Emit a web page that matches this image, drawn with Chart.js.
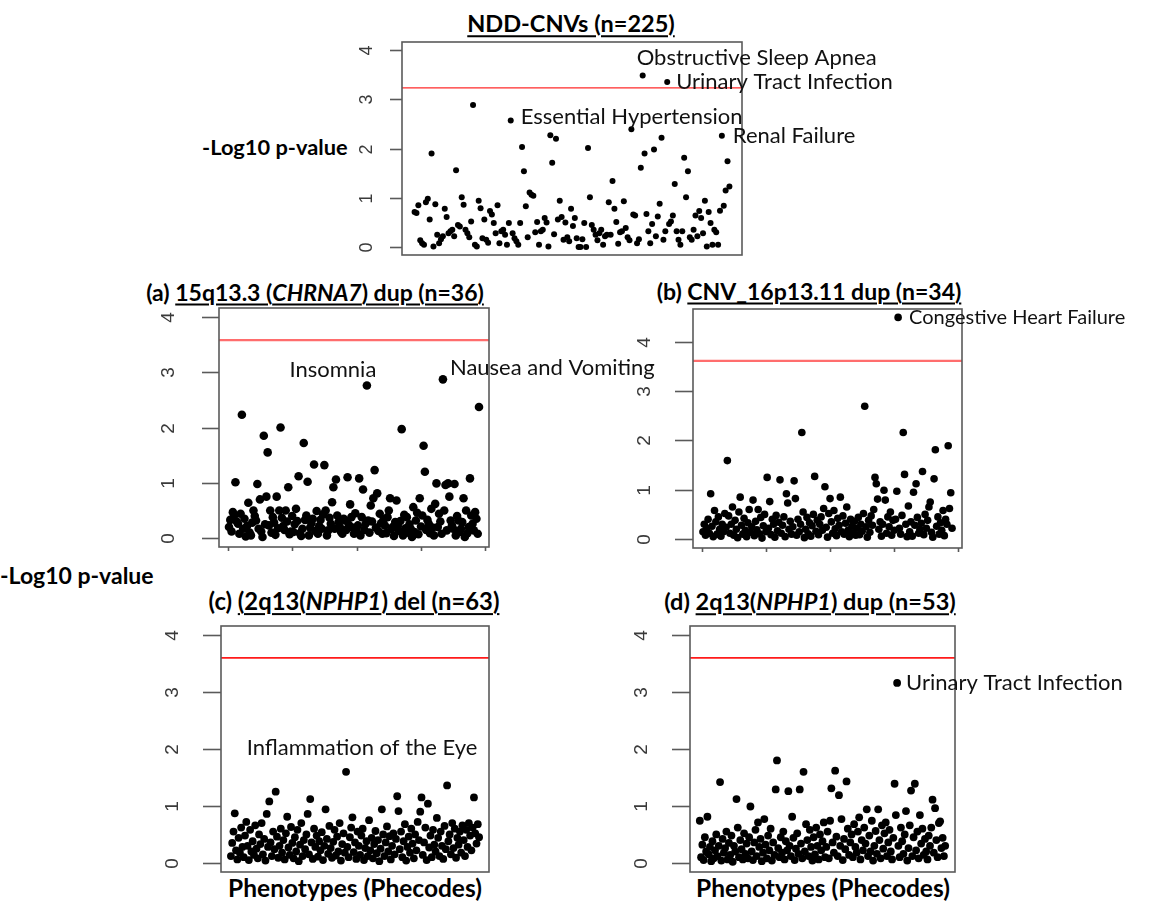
<!DOCTYPE html>
<html>
<head>
<meta charset="utf-8">
<script src="https://cdn.jsdelivr.net/npm/chart.js@4.4.1/dist/chart.umd.min.js"></script>
<style>
  body { margin: 0; background: #fff; width: 1150px; height: 903px; position: relative; overflow: hidden; font-family: Lato, sans-serif; }
  canvas { position: absolute; }
  .t { position: absolute; font-weight: bold; white-space: nowrap; color: #000; line-height: 1; }
  .u { text-decoration: underline; text-decoration-thickness: 2px; text-underline-offset: 3px; }
</style>
</head>
<body>
<div class="t" style="left:571px;top:24px;font-size:23.5px;transform:translate(-50%,-50%)"><span class="u">NDD-CNVs (n=225)</span></div>
<div class="t" style="left:202px;top:147px;font-size:21.8px;transform:translateY(-50%)">-Log10 p-value</div>
<div class="t" style="left:315px;top:292px;font-size:23px;transform:translate(-50%,-50%)">(a) <span class="u">15q13.3 (<i>CHRNA7</i>) dup (n=36)</span></div>
<div class="t" style="left:809px;top:291px;font-size:23px;transform:translate(-50%,-50%)">(b) <span class="u">CNV_16p13.11 dup (n=34)</span></div>
<div class="t" style="left:0px;top:575px;font-size:23px;transform:translateY(-50%)">-Log10 p-value</div>
<div class="t" style="left:354px;top:602px;font-size:23.8px;transform:translate(-50%,-50%)">(c) <span class="u">(2q13(<i>NPHP1</i>) del (n=63)</span></div>
<div class="t" style="left:810px;top:602px;font-size:23.5px;transform:translate(-50%,-50%)">(d) <span class="u">2q13(<i>NPHP1</i>) dup (n=53)</span></div>
<div class="t" style="left:355px;top:888px;font-size:24.5px;transform:translate(-50%,-50%)">Phenotypes (Phecodes)</div>
<div class="t" style="left:823px;top:888px;font-size:24.5px;transform:translate(-50%,-50%)">Phenotypes (Phecodes)</div>

<canvas id="cTop"></canvas>
<canvas id="cA"></canvas>
<canvas id="cB"></canvas>
<canvas id="cC"></canvas>
<canvas id="cD"></canvas>

<script>
// -log10 p-values, one per phecode, in phecode order
const nddCnvs = [
  0.71,0.69,0.85,0.14,0.08,0.05,0.91,0.98,0.56,1.90,
  0.01,0.87,0.25,0.08,0.16,0.22,0.78,0.61,0.28,0.32,
  0.35,0.22,1.56,0.45,0.42,1.01,0.86,0.35,0.28,0.20,
  0.52,2.88,0.05,0.01,0.94,0.79,0.18,0.56,0.15,0.09,
  0.73,0.66,0.49,0.28,0.85,0.08,0.32,0.35,0.25,0.05,
  0.49,2.57,0.28,0.18,0.12,0.05,0.49,2.03,1.54,0.83,
  0.20,1.11,1.06,1.04,0.30,0.51,0.05,0.32,0.35,0.59,
  0.50,0.01,2.27,1.71,0.26,2.20,0.56,0.94,0.61,0.15,
  0.50,0.20,0.12,0.78,0.43,0.59,0.18,0.00,0.00,0.16,
  0.49,0.00,2.01,1.01,0.45,0.35,0.25,0.14,0.28,0.35,
  0.05,0.22,0.25,0.91,0.25,1.34,0.78,0.51,0.07,0.30,
  0.32,0.93,0.39,0.20,0.14,2.39,0.66,0.64,0.08,0.16,
  1.61,3.48,1.90,0.67,0.32,0.08,0.47,1.98,0.22,0.62,
  0.88,2.22,0.15,0.32,3.35,0.47,0.52,0.64,1.28,0.32,
  0.15,0.05,0.32,1.81,1.01,1.54,0.20,0.15,0.35,0.64,
  0.22,0.73,0.59,0.28,0.94,0.01,0.71,0.49,0.05,0.35,
  0.30,0.05,0.74,2.26,0.84,1.15,1.74,1.23
];

const dupCHRNA7 = [
  0.20,0.33,0.12,0.47,0.41,1.01,0.30,0.26,0.08,0.44,
  2.23,0.17,0.35,0.03,0.22,0.64,0.10,0.05,0.28,0.50,
  0.40,0.32,0.98,0.17,0.70,0.12,0.02,1.85,0.25,0.75,
  1.55,0.23,0.50,0.10,0.38,0.28,0.06,0.75,0.18,0.50,
  2.00,0.37,0.22,0.15,0.50,0.30,0.92,0.07,0.12,0.40,
  0.11,0.25,0.53,0.31,1.12,0.09,0.04,0.17,1.72,0.33,
  0.41,1.02,0.05,0.19,0.27,0.35,1.33,0.13,0.49,0.08,
  0.22,0.33,0.17,0.43,1.32,0.50,0.05,0.14,0.37,0.26,
  0.65,0.92,0.17,1.06,0.41,0.29,0.20,0.11,0.08,0.35,
  0.32,0.15,1.10,0.24,0.61,0.38,0.19,0.08,0.45,0.12,
  0.23,1.08,0.05,0.38,0.88,0.15,0.26,2.76,0.32,0.10,
  0.59,0.30,0.72,1.23,0.19,0.81,0.13,0.44,0.27,0.08,
  0.34,0.23,0.09,0.38,0.50,0.72,0.16,0.20,0.04,0.29,
  0.68,0.22,0.13,0.31,1.97,0.05,0.42,0.18,0.38,0.10,
  0.25,0.17,0.02,0.56,0.11,0.32,0.46,0.07,0.72,0.21,
  0.41,1.67,1.20,0.15,0.33,0.26,0.09,0.53,0.19,0.05,
  0.62,0.99,0.20,0.44,0.30,0.08,2.87,0.50,0.96,0.14,
  0.99,0.75,0.32,0.23,0.17,0.98,0.05,0.40,0.32,0.11,
  0.17,0.29,0.72,0.02,0.50,0.09,0.20,1.08,0.41,0.26,
  0.14,0.47,0.35,0.08,2.37
];

const dup16p1311 = [
  0.15,0.30,0.08,0.22,0.40,0.12,0.92,0.26,0.05,0.58,
  0.35,0.10,0.45,0.20,0.06,0.30,0.15,0.52,0.24,1.59,
  0.47,0.12,0.30,0.65,0.08,0.38,0.20,0.03,0.55,0.85,
  0.28,0.10,0.42,0.18,0.05,0.33,0.60,0.14,0.25,0.79,
  0.07,0.36,0.19,0.60,0.11,0.44,0.02,0.27,0.50,0.15,
  1.25,0.22,0.76,0.09,0.40,0.30,0.04,0.48,0.17,0.34,
  1.20,0.12,0.28,0.45,0.05,0.92,0.73,0.20,0.36,0.10,
  0.25,1.18,0.82,0.08,0.40,0.15,0.30,2.16,0.55,0.03,
  0.20,0.44,0.11,0.33,0.06,0.27,0.50,1.27,0.16,0.38,
  0.09,0.30,0.45,0.18,0.62,1.06,0.24,0.04,0.52,0.82,
  0.35,0.12,0.58,0.21,0.07,0.42,0.28,0.85,0.15,0.47,
  0.10,0.32,0.65,0.18,0.05,0.40,0.26,0.13,0.36,0.08,
  0.22,0.44,0.09,0.30,0.16,0.52,2.69,0.25,0.04,0.38,
  0.14,0.47,0.28,0.60,1.25,1.12,0.81,0.20,0.35,0.06,
  0.30,0.99,0.79,0.12,0.45,0.25,0.55,0.08,0.38,0.18,
  0.40,0.97,4.49,0.22,0.10,0.48,2.16,1.31,0.30,0.05,
  0.67,0.15,0.35,0.06,0.95,0.28,1.12,0.44,0.12,0.20,
  0.32,1.37,0.09,0.50,0.22,0.38,0.65,0.75,0.14,0.04,
  1.22,1.81,0.26,0.45,0.10,0.33,0.18,0.58,0.07,0.40,
  0.30,1.89,0.62,0.94,0.22
];

const delNPHP1 = [
  0.12,0.35,0.55,0.87,0.22,0.06,0.44,0.18,0.62,0.28,
  0.10,0.48,0.72,0.30,0.05,0.58,0.20,0.38,0.14,0.66,
  0.25,0.08,0.50,0.33,0.70,0.15,0.42,0.04,0.86,0.28,
  1.08,0.36,0.12,0.55,0.24,1.25,0.46,0.09,0.30,0.60,
  0.18,0.40,0.06,0.52,0.81,0.27,0.14,0.63,0.35,0.08,
  0.45,0.20,0.58,0.03,0.32,0.70,0.12,0.40,0.24,0.50,
  0.86,0.15,1.12,0.36,0.07,0.60,0.28,0.48,0.11,0.38,
  0.22,0.54,0.05,0.30,0.94,0.42,0.16,0.65,0.26,0.09,
  0.37,0.58,0.13,0.46,0.20,0.70,0.04,0.33,0.52,0.18,
  1.60,0.28,0.10,0.45,0.62,0.80,0.19,0.36,0.07,0.55,
  0.30,0.14,0.48,0.60,0.05,0.26,0.38,0.12,0.75,0.22,
  0.44,0.08,0.33,0.56,0.17,0.40,0.03,0.25,0.94,0.50,
  0.12,0.36,0.64,0.20,0.47,0.06,0.30,0.52,0.15,0.42,
  1.17,0.91,0.24,0.55,0.10,0.38,0.68,0.04,0.28,0.46,
  0.18,0.60,0.34,0.08,0.50,0.22,0.72,0.40,0.90,1.15,
  0.14,0.36,0.62,0.05,1.04,0.27,0.48,0.10,0.58,0.32,
  0.20,0.79,0.44,0.12,0.55,0.30,0.07,0.65,0.24,1.36,
  0.38,0.50,0.15,0.70,0.26,0.60,0.09,0.44,0.32,0.55,
  0.18,0.66,0.40,0.12,0.58,0.28,0.70,0.48,0.22,0.62,
  1.15,0.52,0.34,0.68,0.45
];

const dupNPHP1 = [
  0.74,0.10,0.32,0.05,0.45,0.20,0.81,0.15,0.28,0.03,
  0.38,0.08,0.22,0.50,0.12,0.30,1.42,0.04,0.42,0.18,
  0.26,0.55,0.06,0.35,0.14,0.48,0.02,0.30,0.20,1.12,
  0.62,0.10,0.40,0.24,0.06,0.52,0.16,0.34,0.08,0.45,
  0.99,0.20,0.05,0.36,0.58,0.12,0.71,0.28,0.42,0.03,
  0.18,0.77,0.32,0.08,0.48,0.22,0.60,0.04,0.36,0.14,
  1.29,1.80,0.26,0.10,0.45,0.18,0.55,0.06,0.38,0.22,
  1.26,0.30,0.12,0.81,0.44,0.05,0.25,0.52,0.16,1.29,
  0.34,0.08,1.60,0.20,0.68,0.40,0.12,0.58,0.28,0.04,
  0.45,0.15,0.62,0.30,0.06,0.50,0.22,0.38,0.71,0.10,
  0.28,0.55,0.08,0.74,1.31,0.36,0.18,1.62,0.46,0.12,
  1.19,0.30,0.77,0.05,0.42,0.24,1.43,0.60,0.14,0.36,
  0.50,0.10,0.68,0.28,0.18,0.55,0.80,0.06,0.40,0.22,
  0.62,0.34,0.94,0.12,0.48,0.20,0.74,0.04,0.30,0.56,
  0.16,0.94,0.40,0.08,0.66,0.25,0.52,0.71,0.12,0.36,
  0.58,0.20,0.06,0.44,1.39,0.84,3.16,0.30,0.10,0.62,
  0.38,0.16,0.50,0.91,0.04,0.26,0.66,1.27,0.12,0.45,
  1.39,0.22,0.55,0.08,0.84,0.34,0.60,0.14,0.42,0.20,
  0.06,0.48,0.30,0.62,1.11,0.18,0.96,0.40,0.10,0.70,
  0.73,0.26,0.44,0.12,0.30
];

// significance thresholds (-log10 of Bonferroni p)
const thresholds = [3.23, 3.58, 3.61, 3.60, 3.60];
const yTicks = [0, 1, 2, 3, 4];
const xTicks = [0, 50, 100, 150, 200];

// labelled phenotypes: [phecode index (1-based), name]
const notesTop = [[52, 'Essential Hypertension'], [122, 'Obstructive Sleep Apnea'], [135, 'Urinary Tract Infection'], [164, 'Renal Failure']];
const notesA = [[108, 'Insomnia'], [167, 'Nausea and Vomiting']];
const notesB = [[153, 'Congestive Heart Failure']];
const notesC = [[91, 'Inflammation of the Eye']];
const notesD = [[157, 'Urinary Tract Infection']];

// label offsets from the point (pixels)
const noteStyle = {
  'Essential Hypertension': { dx: 10, dy: -3, align: 'left' },
  'Obstructive Sleep Apnea': { dx: -6, dy: -18, align: 'left' },
  'Urinary Tract Infection': { dx: 9, dy: 0, align: 'left' },
  'Renal Failure': { dx: 11, dy: 0, align: 'left' },
  'Insomnia': { dx: -34, dy: -16, align: 'center' },
  'Nausea and Vomiting': { dx: 7, dy: -11, align: 'left' },
  'Congestive Heart Failure': { dx: 11, dy: 0, align: 'left', size: 20 },
  'Inflammation of the Eye': { dx: 16, dy: -24, align: 'center' }
};

function frame(p) {
  return {
    id: 'frame',
    afterDatasetsDraw(chart) {
      const { ctx, chartArea: a, scales: { x, y } } = chart;
      ctx.save();
      ctx.strokeStyle = '#5a5a5a';
      ctx.lineWidth = 1.6;
      ctx.strokeRect(a.left, a.top, a.right - a.left, a.bottom - a.top);

      ctx.fillStyle = '#3a3a3a';
      ctx.font = p.tickFont;
      yTicks.forEach(v => {
        const py = Math.round(y.getPixelForValue(v)) + 0.5;
        ctx.beginPath();
        ctx.moveTo(a.left - p.tickLen, py);
        ctx.lineTo(a.left, py);
        ctx.stroke();
        ctx.save();
        ctx.translate(a.left - p.labelGap, py);
        ctx.rotate(-Math.PI / 2);
        ctx.textAlign = 'center';
        ctx.textBaseline = 'middle';
        ctx.fillText(String(v), 0, 0);
        ctx.restore();
      });
      if (p.xTicks) {
        xTicks.forEach(v => {
          const px = Math.round(x.getPixelForValue(v)) + 0.5;
          ctx.beginPath();
          ctx.moveTo(px, a.bottom);
          ctx.lineTo(px, a.bottom + 4);
          ctx.stroke();
        });
      }

      ctx.fillStyle = '#111';
      ctx.textBaseline = 'middle';
      p.notes.forEach(([i, name]) => {
        const s = noteStyle[name];
        const px = x.getPixelForValue(i);
        const py = y.getPixelForValue(p.values[i - 1]);
        ctx.font = (s.size || 22) + 'px Lato';
        ctx.textAlign = s.align;
        ctx.fillText(name, px + s.dx, py + s.dy);
      });
      ctx.restore();
    }
  };
}

function makePanel(id, p) {
  const el = document.getElementById(id);
  el.width = p.w; el.height = p.h;
  el.style.left = p.left + 'px'; el.style.top = p.top + 'px';
  el.style.width = p.w + 'px'; el.style.height = p.h + 'px';
  const n = p.values.length;
  const ext = 0.04 * (n - 1);
  const xMin = 1 - ext, xMax = n + ext;
  new Chart(el, {
    type: 'scatter',
    data: {
      datasets: [
        {
          data: p.values.map((v, i) => ({ x: i + 1, y: v })),
          backgroundColor: '#000',
          borderWidth: 0,
          pointRadius: p.r,
          clip: false
        },
        {
          type: 'line',
          data: [{ x: xMin, y: p.thr }, { x: xMax, y: p.thr }],
          borderColor: p.thrColor,
          borderWidth: p.thrWidth,
          pointRadius: 0,
          clip: false
        }
      ]
    },
    options: {
      responsive: false,
      devicePixelRatio: 1,
      animation: false,
      layout: { padding: p.pad },
      scales: {
        x: { type: 'linear', min: xMin, max: xMax, display: false },
        y: { type: 'linear', min: p.yMin, max: p.yMax, display: false }
      },
      plugins: { legend: { display: false }, tooltip: { enabled: false } }
    },
    plugins: [frame(p)]
  });
}

makePanel('cTop', {
  values: nddCnvs, notes: notesTop, thr: thresholds[0], thrColor: '#ff2a2a', thrWidth: 1.3,
  left: 340, top: 35, w: 560, h: 230, pad: { left: 62, top: 7, right: 158, bottom: 10 },
  yMin: -0.16, yMax: 4.16, r: 3, tickFont: '18px "Liberation Sans"', tickLen: 12, labelGap: 35, xTicks: false
});
makePanel('cA', {
  values: dupCHRNA7, notes: notesA, thr: thresholds[1], thrColor: 'rgba(255,60,60,0.75)', thrWidth: 2.2,
  left: 150, top: 300, w: 520, h: 260, pad: { left: 69, top: 8, right: 181, bottom: 13 },
  yMin: -0.16, yMax: 4.16, r: 4.3, tickFont: '19px "Liberation Sans"', tickLen: 17, labelGap: 50, xTicks: true
});
makePanel('cB', {
  values: dup16p1311, notes: notesB, thr: thresholds[2], thrColor: 'rgba(255,60,60,0.75)', thrWidth: 2.2,
  left: 630, top: 300, w: 520, h: 260, pad: { left: 63, top: 9, right: 188, bottom: 12 },
  yMin: -0.18, yMax: 4.66, r: 3.8, tickFont: '19px "Liberation Sans"', tickLen: 18, labelGap: 48, xTicks: true
});
makePanel('cC', {
  values: delNPHP1, notes: notesC, thr: thresholds[3], thrColor: '#ff1a1a', thrWidth: 1.6,
  left: 150, top: 615, w: 360, h: 270, pad: { left: 71, top: 11, right: 21, bottom: 13 },
  yMin: -0.16, yMax: 4.16, r: 3.9, tickFont: '19px "Liberation Sans"', tickLen: 18, labelGap: 48, xTicks: false
});
makePanel('cD', {
  values: dupNPHP1, notes: notesD, thr: thresholds[4], thrColor: '#ff1a1a', thrWidth: 1.6,
  left: 620, top: 615, w: 530, h: 270, pad: { left: 70, top: 11, right: 195, bottom: 13 },
  yMin: -0.16, yMax: 4.16, r: 3.9, tickFont: '19px "Liberation Sans"', tickLen: 18, labelGap: 48, xTicks: false
});
</script>
</body>
</html>
